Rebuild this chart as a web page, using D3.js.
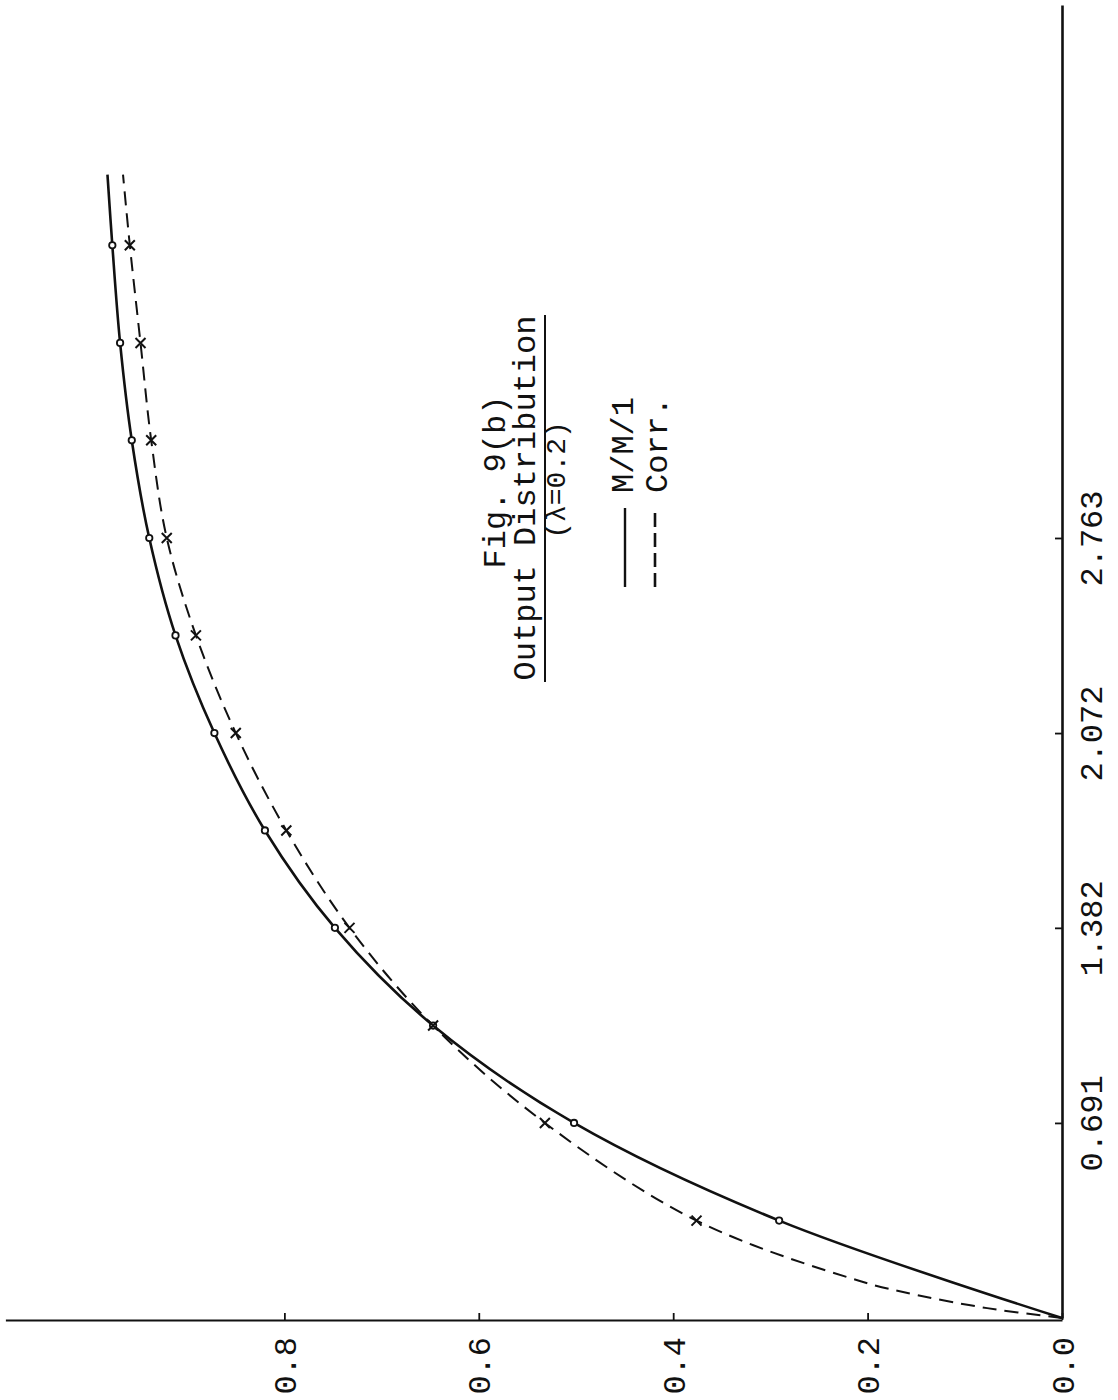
<!DOCTYPE html>
<html>
<head>
<meta charset="utf-8">
<script src="https://cdn.jsdelivr.net/npm/d3@7"></script>
<style>
  body { margin: 0; background: #fff; }
  text { font-family: "Liberation Mono", "DejaVu Sans Mono", monospace; fill: #111; }
</style>
</head>
<body>
<svg id="chart" width="1118" height="1400"></svg>
<script>
// Time axis (runs up the page) and probability axis (runs leftward).
const timeTicks = [0.691, 1.382, 2.072, 2.763];
const timeTickLabels = ["0.691", "1.382", "2.072", "2.763"];
const probTicks = [0.0, 0.2, 0.4, 0.6, 0.8];
const probTickLabels = ["0.0", "0.2", "0.4", "0.6", "0.8"];

// Plotted (marked) points, shared times for both series.
const markerTimes = [0.345, 0.691, 1.036, 1.382, 1.727, 2.072, 2.418, 2.763, 3.109, 3.454, 3.800];
const mm1Probs   = [0.291, 0.502, 0.647, 0.748, 0.820, 0.872, 0.912, 0.939, 0.957, 0.969, 0.977];
const corrProbs  = [0.376, 0.532, 0.647, 0.733, 0.798, 0.850, 0.891, 0.921, 0.937, 0.948, 0.959];

// Curve points without markers (origin, early rise of Corr., end of the drawn lines).
const mm1LineTimes  = [0].concat(markerTimes, [4.05]);
const mm1LineProbs  = [0].concat(mm1Probs, [0.982]);
const corrLineTimes = [0, 0.035, 0.082, 0.131].concat(markerTimes, [4.05]);
const corrLineProbs = [0, 0.077, 0.150, 0.208].concat(corrProbs, [0.966]);

const svg = d3.select("#chart");
svg.append("rect").attr("width", 1118).attr("height", 1400).attr("fill", "#fff");

// Page is turned: time maps to vertical position, probability to horizontal.
const yT = d3.scaleLinear().domain([0, 4.651]).range([1318, 5]);
const xP = d3.scaleLinear().domain([0, 1.087]).range([1062, 5.4]);

// Time axis along the right edge, ticks pointing into the plot.
const tAxis = svg.append("g")
  .attr("transform", `translate(${xP(0)},0)`)
  .call(d3.axisRight(yT).tickValues(timeTicks).tickSize(-7).tickSizeOuter(0)
        .tickFormat((d, i) => timeTickLabels[i]));
tAxis.select(".domain").attr("stroke", "#111").attr("stroke-width", 2.6);
tAxis.selectAll(".tick line").attr("stroke", "#111").attr("stroke-width", 1.8);
tAxis.selectAll(".tick text")
  .attr("x", null).attr("dy", null)
  .attr("transform", "translate(29,0) rotate(-90)")
  .attr("text-anchor", "middle")
  .attr("dy", "0.35em")
  .style("font-size", "32px");

// Probability axis along the bottom, ticks pointing into the plot.
const pAxis = svg.append("g")
  .attr("transform", `translate(0,${yT(0) + 2})`)
  .call(d3.axisBottom(xP).tickValues(probTicks).tickSize(-7).tickSizeOuter(0)
        .tickFormat((d, i) => probTickLabels[i]));
pAxis.select(".domain").attr("stroke", "#111").attr("stroke-width", 2);
pAxis.selectAll(".tick line").attr("stroke", "#111").attr("stroke-width", 1.8);
pAxis.selectAll(".tick text")
  .attr("y", null).attr("dy", null)
  .attr("transform", "translate(0,17) rotate(-90)")
  .attr("text-anchor", "end")
  .attr("dy", "0.35em")
  .style("font-size", "32px");
svg.selectAll(".domain").attr("fill", "none");

const line = d3.line()
  .x(d => xP(d[1]))
  .y(d => yT(d[0]))
  .curve(d3.curveCatmullRom.alpha(0.5));

const mm1Line = d3.zip(mm1LineTimes, mm1LineProbs);
const corrLine = d3.zip(corrLineTimes, corrLineProbs);

svg.append("path").datum(mm1Line)
  .attr("d", line).attr("fill", "none")
  .attr("stroke", "#111").attr("stroke-width", 2.6);

svg.append("path").datum(corrLine)
  .attr("d", line).attr("fill", "none")
  .attr("stroke", "#111").attr("stroke-width", 2)
  .attr("stroke-dasharray", "14,8");

// M/M/1 markers: small circles.
svg.append("g").selectAll("circle")
  .data(d3.zip(markerTimes, mm1Probs))
  .join("circle")
  .attr("cx", d => xP(d[1])).attr("cy", d => yT(d[0]))
  .attr("r", 3.2).attr("fill", "#fff")
  .attr("stroke", "#111").attr("stroke-width", 1.8);

// Corr. markers: crosses.
const s = 5;
svg.append("g").selectAll("path")
  .data(d3.zip(markerTimes, corrProbs))
  .join("path")
  .attr("d", d => {
    const cx = xP(d[1]), cy = yT(d[0]);
    return `M${cx - s},${cy - s}L${cx + s},${cy + s}M${cx - s},${cy + s}L${cx + s},${cy - s}`;
  })
  .attr("stroke", "#111").attr("stroke-width", 2).attr("fill", "none");

// Title block and legend, written sideways like the axes.
const rot = (x, y) => `translate(${x},${y}) rotate(-90)`;
svg.append("text").attr("transform", rot(505, 482))
  .attr("text-anchor", "middle").style("font-size", "32px")
  .text("Fig. 9(b)");
svg.append("text").attr("transform", rot(535, 498))
  .attr("text-anchor", "middle").style("font-size", "32px")
  .text("Output Distribution");
svg.append("line")
  .attr("x1", 545).attr("x2", 545).attr("y1", 315).attr("y2", 682)
  .attr("stroke", "#111").attr("stroke-width", 2);
svg.append("text").attr("transform", rot(565, 480))
  .attr("text-anchor", "middle").style("font-size", "28px")
  .text("(λ=0.2)");

svg.append("line")
  .attr("x1", 625).attr("x2", 625).attr("y1", 508).attr("y2", 587)
  .attr("stroke", "#111").attr("stroke-width", 2.4);
svg.append("text").attr("transform", rot(633, 493))
  .attr("text-anchor", "start").style("font-size", "32px")
  .text("M/M/1");
svg.append("line")
  .attr("x1", 655).attr("x2", 655).attr("y1", 513).attr("y2", 587)
  .attr("stroke", "#111").attr("stroke-width", 2.6)
  .attr("stroke-dasharray", "14,6");
svg.append("text").attr("transform", rot(667, 493))
  .attr("text-anchor", "start").style("font-size", "32px")
  .text("Corr.");
</script>
</body>
</html>
